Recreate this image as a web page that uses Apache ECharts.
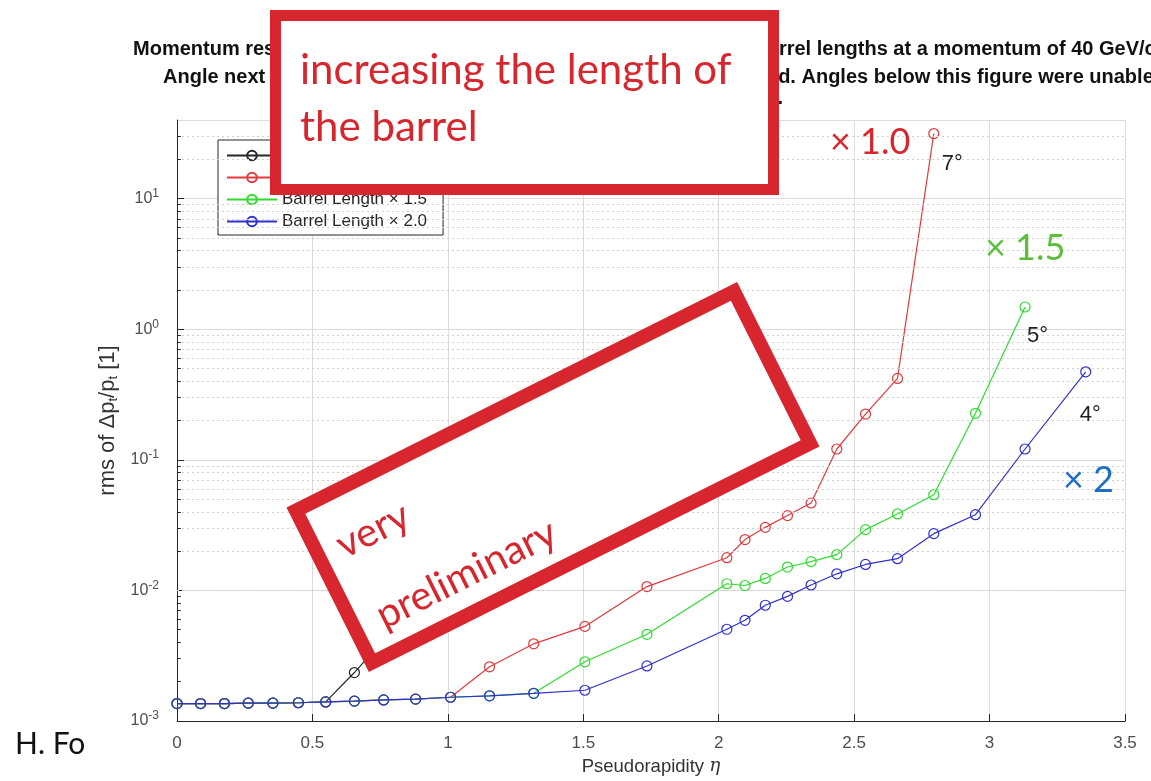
<!DOCTYPE html>
<html><head><meta charset="utf-8">
<script src="https://cdn.jsdelivr.net/npm/echarts@6/dist/echarts.min.js"></script>
<style>html,body{margin:0;padding:0;background:#fff;}#c{width:1151px;height:781px;}</style>
</head><body><div id="c"></div>
<script>
// ---- data ----
const eta = [0, 0.087, 0.175, 0.263, 0.354, 0.448, 0.549, 0.655, 0.763, 0.881, 1.010, 1.154, 1.317, 1.506, 1.735,
             2.030, 2.097, 2.172, 2.254, 2.341, 2.436, 2.542, 2.660, 2.794, 2.948, 3.131, 3.355];
const seriesNames = ['Barrel Length \u00d7 0.5', 'Barrel Length \u00d7 1.0', 'Barrel Length \u00d7 1.5', 'Barrel Length \u00d7 2.0'];
const blackVals = [0.00136, 0.00136, 0.00136, 0.00137, 0.00137, 0.00138, 0.00140, 0.00235, 0.0042];
const redVals = [0.00136, 0.00136, 0.00136, 0.00137, 0.00137, 0.00138, 0.00140, 0.00142, 0.00145, 0.00147, 0.00152,
                 0.0026, 0.0039, 0.0053, 0.0107, 0.0178, 0.0245, 0.0304, 0.0374, 0.0467, 0.121, 0.224, 0.42, 31.5];
const greenVals = [0.00136, 0.00136, 0.00136, 0.00137, 0.00137, 0.00138, 0.00140, 0.00142, 0.00145, 0.00147, 0.00152,
                   0.00156, 0.00163, 0.00284, 0.00461, 0.01125, 0.0109, 0.01235, 0.0151, 0.0166, 0.0188, 0.0292, 0.0385, 0.054, 0.227, 1.48];
const blueVals = [0.00136, 0.00136, 0.00136, 0.00137, 0.00137, 0.00138, 0.00140, 0.00142, 0.00145, 0.00147, 0.00152,
                  0.00156, 0.00163, 0.00172, 0.00264, 0.00504, 0.0059, 0.0077, 0.0090, 0.0110, 0.0134, 0.0158, 0.0175, 0.0272, 0.038, 0.121, 0.472];
const yTickExponents = ['-3', '-2', '-1', '0', '1'];
const endAngles = ['7\u00b0', '5\u00b0', '4\u00b0'];   // red, green, blue end labels
const factorLabels = ['\u00d7 1.0', '\u00d7 1.5', '\u00d7 2'];
const titleLines = [
  'Momentum resolution against pseudorapidity for', 'different barrel lengths at a momentum of 40 GeV/c',
  'Angle next to each final point is the last angle', 'simulated. Angles below this figure were unable to be simulated',
  'due to the detector geometry.'
];

// ---- chart ----
const FONT = '"Liberation Sans", Arial, sans-serif';
const SLIDE = 'Lato, "Open Sans", sans-serif';
const RED = '#d7262e';
const colors = ['#262626', '#e2393d', '#2fdc2f', '#3030d0'];
const seriesVals = [blackVals, redVals, greenVals, blueVals];
const toPairs = vals => vals.map((v, i) => [eta[i], v]);

const minorVals = [];
for (let e = -3; e <= 1; e++) for (let m = 2; m <= 9; m++) {
  const v = +(m * Math.pow(10, e)).toPrecision(3);
  if (v < 40) minorVals.push(v);
}

const chart = echarts.init(document.getElementById('c'));
const lineSeries = seriesVals.map((vals, k) => ({
  type: 'line', name: seriesNames[k], data: toPairs(vals),
  symbol: 'circle', symbolSize: 10, showAllSymbol: true, silent: true, z: 3 + k,
  lineStyle: { color: colors[k], width: 1.2 },
  itemStyle: { color: 'rgba(0,0,0,0)', borderColor: colors[k], borderWidth: 1.2 }
}));

const option = {
  animation: false,
  backgroundColor: '#fff',
  grid: { left: 177, right: 26, top: 120, bottom: 58 },
  xAxis: {
    type: 'value', min: 0, max: 3.5, interval: 0.5,
    name: '{a|Pseudorapidity }{b|\u03b7}', nameLocation: 'middle', nameGap: 36,
    nameTextStyle: { rich: { a: { fontSize: 18.5, color: '#333', fontFamily: FONT }, b: { fontSize: 18.5, color: '#333', fontStyle: 'italic', fontFamily: '"DejaVu Serif", serif' } } },
    axisLine: { lineStyle: { color: '#262626', width: 1 } },
    axisTick: { inside: true, length: 7, lineStyle: { color: '#262626' } },
    axisLabel: { fontSize: 17, color: '#4d4d4d', margin: 14, fontFamily: FONT },
    splitLine: { show: true, lineStyle: { color: '#dcdcdc', width: 1 } }
  },
  yAxis: {
    type: 'log', logBase: 10, min: 0.001, max: 40,
    name: '{a|rms of \u0394p}{s|t}{a|/p}{s|t}{a| [1]}', nameLocation: 'middle', nameGap: 42, nameRotate: 90,
    nameTextStyle: { rich: {
      a: { fontSize: 22, color: '#333', fontFamily: FONT, lineHeight: 24 },
      s: { fontSize: 13, color: '#333', fontFamily: FONT, lineHeight: 24, verticalAlign: 'bottom', padding: [7, 0, 0, 0] } } },
    axisLine: { show: true, lineStyle: { color: '#262626', width: 1 } },
    axisTick: { show: true, inside: true, length: 7, lineStyle: { color: '#262626' } },
    axisLabel: {
      showMaxLabel: false, margin: 18,
      formatter: (v, i) => yTickExponents[i] !== undefined ? '{b|10}{s|' + yTickExponents[i] + '}' : '',
      rich: { b: { fontSize: 16, color: '#4d4d4d', fontFamily: FONT, lineHeight: 22 },
              s: { fontSize: 12, color: '#4d4d4d', fontFamily: FONT, verticalAlign: 'top', lineHeight: 12 } }
    },
    splitLine: { show: true, lineStyle: { color: '#dcdcdc', width: 1 } }
  },
  legend: {
    data: seriesNames, orient: 'vertical', left: 218, top: 140,
    itemWidth: 50, itemHeight: 12, itemGap: 5, padding: [7, 16, 5, 8],
    borderColor: '#262626', borderWidth: 1, backgroundColor: '#fff', borderRadius: 0,
    selectedMode: false, textStyle: { fontSize: 17, color: '#262626', fontFamily: FONT, lineHeight: 17 }
  },
  series: [
    { type: 'line', name: 'minor grid', data: [], silent: true, z: 1,
      markLine: { silent: true, symbol: ['none', 'none'], label: { show: false }, animation: false,
        lineStyle: { color: '#cfcfcf', type: [2, 3], width: 1 },
        data: minorVals.map(v => ({ yAxis: v })) } },
    { type: 'line', name: 'minor ticks', data: [], silent: true, z: 2,
      markLine: { silent: true, symbol: ['none', 'none'], label: { show: false }, animation: false,
        lineStyle: { color: '#262626', type: 'solid', width: 1 },
        data: minorVals.map(v => [{ coord: [0, v] }, { coord: [0.014, v] }]) } },
    ...lineSeries
  ]
};
chart.setOption(option);

// ---- overlays ----
const pRed = chart.convertToPixel({ gridIndex: 0 }, [eta[redVals.length - 1], redVals[redVals.length - 1]]);
const pGreen = chart.convertToPixel({ gridIndex: 0 }, [eta[greenVals.length - 1], greenVals[greenVals.length - 1]]);
const pBlue = chart.convertToPixel({ gridIndex: 0 }, [eta[blueVals.length - 1], blueVals[blueVals.length - 1]]);

const txt = (id, text, x, y, o, z) => ({ type: 'text', id, z: z || 100, silent: true,
  style: Object.assign({ text, x, y, fill: '#111', fontSize: 20, fontFamily: FONT, align: 'left', verticalAlign: 'middle' }, o || {}) });

const graphic = [
  txt('t1a', titleLines[0], 133, 49, { fontWeight: 'bold' }, 90),
  txt('t1b', titleLines[1], 670, 49, { fontWeight: 'bold' }, 90),
  txt('t2a', titleLines[2], 163, 77, { fontWeight: 'bold' }, 90),
  txt('t2b', titleLines[3], 697, 77, { fontWeight: 'bold' }, 90),
  txt('t3', titleLines[4], 783, 98, { fontWeight: 'bold', align: 'right' }, 90),
  // top slide box
  { type: 'rect', id: 'box1', z: 110, silent: true, shape: { x: 275.5, y: 15.5, width: 498, height: 174 },
    style: { fill: '#fff', stroke: RED, lineWidth: 11 } },
  txt('b1', 'increasing the length of', 300, 70, { fontSize: 42, fontFamily: SLIDE, fill: RED }, 120),
  txt('b2', 'the barrel', 300, 127, { fontSize: 42, fontFamily: SLIDE, fill: RED }, 120),
  // rotated "very preliminary" box
  { type: 'group', id: 'vp', x: 553, y: 477, rotation: 26.6 * Math.PI / 180, silent: true,
    children: [
      { type: 'rect', z: 110, shape: { x: -245, y: -85, width: 490, height: 170 }, style: { fill: '#fff', stroke: RED, lineWidth: 14 } },
      { type: 'text', z: 111, style: { text: 'very', x: -223, y: -33, fill: RED, fontSize: 40, fontFamily: SLIDE, verticalAlign: 'middle' } },
      { type: 'text', z: 111, style: { text: 'preliminary', x: -219, y: 48, fill: RED, fontSize: 40, fontFamily: SLIDE, verticalAlign: 'middle' } }
    ] },
  // factor labels
  txt('f1', factorLabels[0], 830, 142, { fontSize: 36, fontFamily: SLIDE, fill: RED }),
  txt('f2', factorLabels[1], 985, 248, { fontSize: 36, fontFamily: SLIDE, fill: '#5bbf3b' }),
  txt('f3', factorLabels[2], 1063, 480, { fontSize: 36, fontFamily: SLIDE, fill: '#1c6ec4' }),
  // end-angle labels next to last points
  txt('a1', endAngles[0], pRed[0] + 8, pRed[1] + 30, { fontSize: 22, fill: '#222' }),
  txt('a2', endAngles[1], pGreen[0] + 2, pGreen[1] + 29, { fontSize: 22, fill: '#222' }),
  txt('a3', endAngles[2], pBlue[0] - 6, pBlue[1] + 43, { fontSize: 22, fill: '#222' }),
  txt('hf', 'H. Fo', 15, 744, { fontSize: 30, fontFamily: SLIDE, fill: '#111' })
];
chart.setOption({ graphic });
</script></body></html>
